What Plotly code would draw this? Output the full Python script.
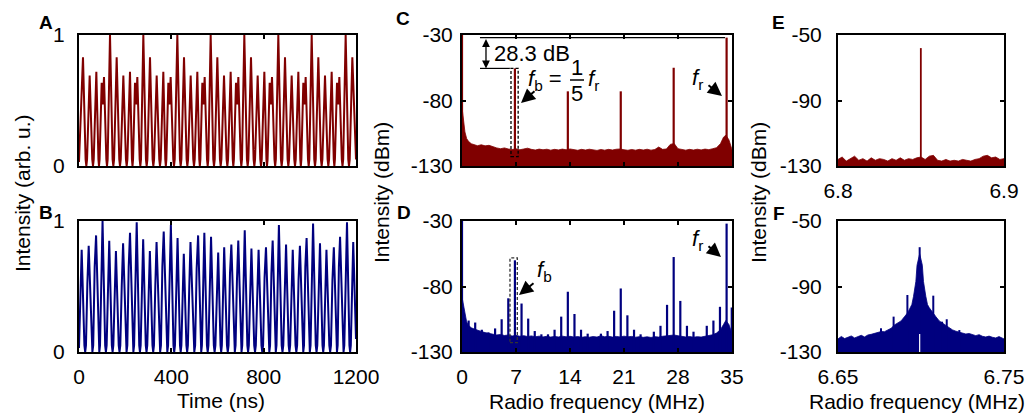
import plotly.graph_objects as go

# ---------------- data ----------------
# Panel A : intensity time trace (red) - local maxima and minima between them
a_max_t = [17.3, 46.2, 75.1, 98.2, 108.3,
           134.3, 163.2, 192.1, 220.9, 242.6, 252.7,
           278.7, 307.6, 336.5, 365.3, 387.0, 397.1,
           426.0, 454.9, 483.8, 512.6, 534.3, 544.4,
           570.4, 599.3, 628.2, 657.0, 680.1, 690.3,
           716.2, 745.1, 774.0, 802.9, 826.0, 836.1,
           863.5, 892.4, 921.3, 950.2, 971.8, 981.9,
           1008.0, 1036.8, 1065.7, 1094.6, 1117.7, 1127.8,
           1155.2, 1184.1]
a_max_v = [0.83, 0.69, 0.72, 0.635, 0.68,
           1.0, 0.83, 0.69, 0.72, 0.635, 0.68,
           1.0, 0.83, 0.69, 0.72, 0.635, 0.68,
           1.0, 0.83, 0.69, 0.72, 0.635, 0.68,
           1.0, 0.83, 0.69, 0.72, 0.635, 0.68,
           1.0, 0.83, 0.69, 0.72, 0.635, 0.68,
           1.0, 0.83, 0.69, 0.72, 0.635, 0.68,
           1.0, 0.83, 0.69, 0.72, 0.635, 0.68,
           1.0, 0.83]
a_min_v = [0.0, 0.0, 0.0, 0.47, 0.0,
           0.0, 0.0, 0.0, 0.0, 0.47, 0.0,
           0.0, 0.0, 0.0, 0.0, 0.47, 0.0,
           0.0, 0.0, 0.0, 0.0, 0.47, 0.0,
           0.0, 0.0, 0.0, 0.0, 0.47, 0.0,
           0.0, 0.0, 0.0, 0.0, 0.47, 0.0,
           0.0, 0.0, 0.0, 0.0, 0.47, 0.0,
           0.0, 0.0, 0.0, 0.0, 0.47, 0.0,
           0.0]
a_edge_v = [0.03, 0.05]

# Panel B : intensity time trace (blue)
b_max_t = [11.6, 42, 74, 102, 131, 160, 191, 221, 250, 278,
           307, 336, 367, 398, 427, 454, 483, 516, 543, 572,
           603, 629, 660, 690, 718, 747, 778, 810, 839, 866,
           897, 926, 957, 986, 1014, 1044, 1072, 1104, 1131, 1161,
           1188]
b_max_v = [0.78, 0.81, 0.89, 1.0, 0.85, 0.77, 0.83, 0.91, 0.99, 0.86,
           0.77, 0.84, 0.92, 0.97, 0.87, 0.75, 0.84, 0.89, 0.91, 0.88,
           0.76, 0.80, 0.82, 0.85, 0.93, 0.79, 0.78, 0.80, 0.85, 0.97,
           0.82, 0.78, 0.81, 0.87, 0.98, 0.83, 0.78, 0.80, 0.88, 0.99,
           0.84]
b_shoulder_v = [0, 0.47, 0.6, 0, 0, 0, 0.45, 0.6, 0, 0,
                0, 0.45, 0.6, 0, 0, 0, 0.43, 0.59, 0, 0,
                0, 0, 0.55, 0.5, 0, 0, 0, 0.52, 0.55, 0,
                0, 0, 0.5, 0.6, 0, 0, 0, 0.5, 0.6, 0,
                0]
b_edge_v = [0.03, 0.1]

# Spectrum noise floor sample frequencies (MHz), panels C and D
cd_floor_f = [0.0, 0.17, 0.38, 0.6, 0.81, 1.2, 1.6,
              2.0, 2.5, 3.0, 3.5, 4.0, 4.5, 5.0, 5.5, 6.0, 6.5,
              7.0, 7.5, 8.0, 8.5, 9.0, 9.5, 10.0, 10.5, 11.0, 11.5,
              12.0, 12.5, 13.0, 13.5, 14.0, 14.5, 15.0, 15.5, 16.0, 16.5,
              17.0, 17.5, 18.0, 18.5, 19.0, 19.5, 20.0, 20.5, 21.0, 21.5,
              22.0, 22.5, 23.0, 23.5, 24.0, 24.5, 25.0, 25.5, 26.0, 26.5,
              27.0, 27.5, 28.0, 28.5, 29.0, 29.5, 30.0, 30.5, 31.0, 31.5,
              32.0, 32.5, 33.0, 33.5, 33.9, 34.2, 34.6, 35.0]
c_floor_v = [-85, -92, -104, -109, -111, -113, -114,
             -114.5, -113.8, -114.6, -114.2, -115.3, -116.2, -116.8, -116.2, -117.0, -117.4,
             -116.9, -117.6, -117.0, -116.4, -117.3, -117.8, -117.1, -117.6, -117.2, -117.9,
             -117.3, -117.7, -117.1, -117.6, -117.0, -117.5, -118.0, -117.3, -117.8, -117.2,
             -117.7, -118.1, -117.4, -117.9, -117.3, -117.8, -117.2, -117.0, -117.6, -118.0,
             -117.4, -117.9, -117.3, -117.8, -117.2, -117.9, -117.4, -115.5, -117.3, -117.0,
             -113.5, -112.8, -116.8, -117.4, -117.9, -117.3, -117.8, -117.2, -117.7, -117.1,
             -117.5, -116.8, -116.0, -113.0, -108.0, -106.5, -110.0, -117.5]
d_floor_v = [-88, -94, -101, -107, -109.5, -111.5, -112.5,
             -113.5, -114.3, -115.2, -115.8, -116.5, -117.0, -116.6, -117.4, -117.0, -117.8,
             -117.3, -118.0, -117.5, -118.2, -117.7, -118.4, -117.9, -118.5, -118.0, -118.6,
             -118.1, -118.5, -117.9, -118.4, -118.0, -118.6, -118.2, -118.8, -118.3, -118.7,
             -118.2, -118.6, -117.5, -118.4, -118.0, -118.6, -118.1, -118.5, -117.9, -118.4,
             -118.1, -118.7, -118.3, -118.8, -118.4, -118.9, -118.3, -118.6, -118.0, -117.6,
             -117.2, -117.0, -117.6, -118.1, -118.5, -118.2, -118.7, -118.3, -118.6, -118.0,
             -117.6, -116.8, -115.5, -113.0, -109.0, -106.0, -109.0, -116.0]

# Spectral lines
c_peak_f = [0.0, 6.86, 13.72, 20.58, 27.44, 34.3]
c_peak_v = [-30, -55.5, -73, -73, -55, -32]

d_peak_f = [0.0, 0.86, 1.71, 2.57, 3.43, 4.29, 5.14, 6.0, 6.86, 7.72,
            8.58, 9.43, 10.29, 11.15, 12.0, 12.86, 13.72, 14.58, 15.43, 16.29,
            18.01, 18.87, 19.72, 20.58, 21.44, 22.3, 23.15, 24.87, 25.73, 26.58,
            27.44, 28.3, 29.16, 30.01, 31.73, 32.59, 33.44, 34.3, 34.97]
d_peak_v = [-30, -106, -107.5, -113, -115, -112, -105, -89, -60, -93,
            -104.5, -114, -116.5, -116.5, -113, -103, -84, -101, -113, -116,
            -116, -114, -98.5, -81.5, -102, -113, -116.5, -114.5, -110, -94,
            -57.5, -91, -110, -114.5, -110, -106, -95.5, -32, -96]

# Panel E : zoom around f_b (red)
e_floor_f = [6.8, 6.8025, 6.805, 6.8075, 6.81, 6.8125, 6.815, 6.8175, 6.82, 6.8225,
             6.825, 6.8275, 6.83, 6.8325, 6.835, 6.8375, 6.84, 6.8425, 6.845, 6.8475,
             6.85, 6.8525, 6.855, 6.8575, 6.86, 6.8625, 6.865, 6.8675, 6.87, 6.8725,
             6.875, 6.8775, 6.88, 6.8825, 6.885, 6.8875, 6.89, 6.8925, 6.895, 6.8975,
             6.9]
e_floor_v = [-126, -124.5, -127, -125.5, -124, -126.5, -125.5, -127, -125, -126.5,
             -125.5, -126, -127, -125.5, -126.5, -125, -126.5, -125.5, -126, -125,
             -124.5, -126, -124, -123.5, -126.5, -127, -126, -127, -126.5, -127,
             -126, -126.5, -127, -126, -125.5, -124, -123.5, -125, -124.5, -126,
             -125.5]
e_peak_f = [6.8499]
e_peak_v = [-58]

# Panel F : zoom around f_b (blue)
f_floor_f = [6.650, 6.652, 6.654, 6.656, 6.658, 6.660, 6.662, 6.664, 6.666, 6.668,
             6.670, 6.672, 6.674, 6.676, 6.678, 6.680, 6.682, 6.684, 6.686, 6.688,
             6.690, 6.692, 6.6935, 6.6945, 6.6955, 6.6969, 6.6976, 6.6992, 6.7008, 6.7015,
             6.7029, 6.7039, 6.705, 6.707, 6.709, 6.711, 6.713, 6.715, 6.717, 6.719,
             6.721, 6.723, 6.725, 6.727, 6.729, 6.731, 6.733, 6.735, 6.737, 6.739,
             6.741, 6.743, 6.745, 6.747, 6.749, 6.750]
f_floor_v = [-122, -120.5, -121.8, -121, -120.2, -121.4, -120.6, -119.8, -120.8, -119.6,
             -119.2, -118.6, -118.4, -117.5, -117.6, -116.5, -115.5, -113.5, -112.5, -111,
             -108.5, -106, -103, -101, -96, -87, -77, -70, -77, -87,
             -96, -101, -103, -106, -108.5, -111, -112.5, -113.5, -115.5, -116.5,
             -117.3, -117.8, -118.5, -119, -118.7, -119.6, -120, -119.4, -120.4, -120.8,
             -120.3, -121, -121.4, -120.6, -121.6, -122]
f_peak_f = [6.6759, 6.6835, 6.6918, 6.6992, 6.7074, 6.7127, 6.7155, 6.7231]
f_peak_v = [-115.5, -108.4, -95.2, -66, -95.6, -111.5, -110, -116.6]
f_gap_f = [6.6992]
f_gap_v = [-119]

# annotation levels / markers (data units, panel C and D)
c_ref_line_x = [2.33, 34.1]
c_fb_line_x = [2.33, 6.2]
c_dbl_arrow_x = 3.11
c_box_x = [6.35, 7.28]
d_box_x = [6.22, 7.17]
d_box_top = -58.2
box_bottom = -122.8

RED = "#800000"
BLUE = "#00007f"
FONT = "Liberation Sans, Arial, sans-serif"
W, H = 1029, 416


def px(x):
    return x / W


def py(y):
    return 1 - y / H


def pulse_train(max_t, max_v, min_v, shoulders, edge_v, t_end):
    """Piecewise trace through the read maxima; pulse bottoms are blunted slightly."""
    xs, ys = [0.0], [edge_v[0]]
    for i in range(len(max_t)):
        if i > 0:
            tm = (max_t[i - 1] + max_t[i]) / 2.0
            mv = min_v[i - 1] if min_v is not None else 0.0
            half = (max_t[i] - max_t[i - 1]) / 2.0
            if mv < 0.1:
                xs += [tm - 0.22 * half, tm, tm + 0.22 * half]
                ys += [mv + 0.05, mv, mv + 0.05]
            else:
                xs.append(tm)
                ys.append(mv)
        else:
            tm = 0.0
        if shoulders is not None and shoulders[i] > 0:
            span = max_t[i] - tm
            xs += [tm + 0.45 * span, tm + 0.62 * span]
            ys += [shoulders[i], shoulders[i] + 0.05]
        xs.append(max_t[i])
        ys.append(max_v[i])
    xs.append(t_end)
    ys.append(edge_v[1])
    return xs, ys


def floor_poly(ff, fv, x0, x1, base):
    return list(ff) + [x1, x0], list(fv) + [base, base]


def line_segments(pf, pv, base):
    xs, ys = [], []
    for f, v in zip(pf, pv):
        xs += [f, f, None]
        ys += [base, v, None]
    return xs, ys


fig = go.Figure()

# A
ax_, ay_ = pulse_train(a_max_t, a_max_v, a_min_v, None, a_edge_v, 1200)
fig.add_trace(go.Scatter(x=ax_, y=ay_, mode="lines", line=dict(color=RED, width=2),
                         xaxis="x", yaxis="y", hoverinfo="skip"))
# B
bx_, by_ = pulse_train(b_max_t, b_max_v, None, b_shoulder_v, b_edge_v, 1200)
fig.add_trace(go.Scatter(x=bx_, y=by_, mode="lines", line=dict(color=BLUE, width=2),
                         xaxis="x2", yaxis="y2", hoverinfo="skip"))


def add_spectrum(ff, fv, pf, pv, x0, x1, base, color, xa, ya, lw):
    px_, py_ = floor_poly(ff, fv, x0, x1, base)
    fig.add_trace(go.Scatter(x=px_, y=py_, mode="lines", fill="toself", fillcolor=color,
                             line=dict(color=color, width=0.8), xaxis=xa, yaxis=ya,
                             hoverinfo="skip"))
    sx, sy = line_segments(pf, pv, base)
    fig.add_trace(go.Scatter(x=sx, y=sy, mode="lines", line=dict(color=color, width=lw),
                             xaxis=xa, yaxis=ya, hoverinfo="skip"))


add_spectrum(cd_floor_f, c_floor_v, c_peak_f, c_peak_v, 0, 35, -130, RED, "x3", "y3", 2.2)
add_spectrum(cd_floor_f, d_floor_v, d_peak_f, d_peak_v, 0, 35, -130, BLUE, "x4", "y4", 2.2)
add_spectrum(e_floor_f, e_floor_v, e_peak_f, e_peak_v, 6.8, 6.9, -130, RED, "x5", "y5", 1.8)
add_spectrum(f_floor_f, f_floor_v, f_peak_f, f_peak_v, 6.65, 6.75, -130, BLUE, "x6", "y6", 2.0)
gx, gy = line_segments(f_gap_f, f_gap_v, -130)
fig.add_trace(go.Scatter(x=gx, y=gy, mode="lines", line=dict(color="white", width=1.2),
                         xaxis="x6", yaxis="y6", hoverinfo="skip"))

# ---------------- axes ----------------
tickfont = dict(family=FONT, size=21, color="black")


def axis(domain, anchor, rng, tickvals, ticktext, show_labels, standoff):
    return dict(domain=domain, anchor=anchor, range=rng, tickvals=tickvals, ticktext=ticktext,
                showticklabels=show_labels, showline=True, linecolor="black", linewidth=2,
                mirror="ticks", ticks="inside", ticklen=4, tickwidth=2, tickcolor="black",
                showgrid=False, zeroline=False, tickfont=tickfont, ticklabelstandoff=standoff,
                fixedrange=True, automargin=False)


xA = [px(79), px(356)]
xC = [px(462), px(732)]
xE = [px(838), px(1004)]
yT = [py(166), py(35)]
yB = [py(352), py(221)]

t_ticks = [0, 400, 800, 1200]
f_ticks = [0, 7, 14, 21, 28, 35]
XSO = 5

layout_axes = dict(
    xaxis=axis(xA, "y", [0, 1200], t_ticks, [str(v) for v in t_ticks], False, XSO),
    yaxis=axis(yT, "x", [0, 1], [0, 1], ["0", "1"], True, 8),
    xaxis2=axis(xA, "y2", [0, 1200], t_ticks, [str(v) for v in t_ticks], True, XSO),
    yaxis2=axis(yB, "x2", [0, 1], [0, 1], ["0", "1"], True, 8),
    xaxis3=axis(xC, "y3", [0, 35], f_ticks, [str(v) for v in f_ticks], False, XSO),
    yaxis3=axis(yT, "x3", [-130, -30], [-130, -80, -30], ["-130", "-80", "-30"], True, 3),
    xaxis4=axis(xC, "y4", [0, 35], f_ticks, [str(v) for v in f_ticks], True, XSO),
    yaxis4=axis(yB, "x4", [-130, -30], [-130, -80, -30], ["-130", "-80", "-30"], True, 3),
    xaxis5=axis(xE, "y5", [6.8, 6.9], [6.8, 6.9], ["6.8", "6.9"], True, XSO),
    yaxis5=axis(yT, "x5", [-130, -50], [-130, -90, -50], ["-130", "-90", "-50"], True, 10),
    xaxis6=axis(xE, "y6", [6.65, 6.75], [6.65, 6.75], ["6.65", "6.75"], True, XSO),
    yaxis6=axis(yB, "x6", [-130, -50], [-130, -90, -50], ["-130", "-90", "-50"], True, 10),
)

# ---------------- annotations ----------------
ann = []


def text(x, y, s, size=21, xanchor="center", yanchor="middle", angle=0, bold=False):
    if bold:
        s = "<b>" + s + "</b>"
    ann.append(dict(x=px(x), y=py(y), xref="paper", yref="paper", text=s, showarrow=False,
                    xanchor=xanchor, yanchor=yanchor, textangle=angle,
                    font=dict(family=FONT, size=size, color="black")))


def arrow(tip, tail):
    ann.append(dict(x=px(tip[0]), y=py(tip[1]), xref="paper", yref="paper", text="",
                    showarrow=True, ax=tail[0] - tip[0], ay=tail[1] - tip[1],
                    arrowhead=2, arrowsize=1.4, arrowwidth=2, arrowcolor="black"))


# panel letters
text(46, 22, "A", 19, bold=True)
text(46, 212, "B", 19, bold=True)
text(403, 19, "C", 19, bold=True)
text(404, 212, "D", 19, bold=True)
text(778, 22, "E", 19, bold=True)
text(779, 214, "F", 19, bold=True)

# axis titles
text(22, 193, "Intensity (arb. u.)", 21, angle=-90)
text(381, 193, "Intensity (dBm)", 21, angle=-90)
text(758, 193, "Intensity (dBm)", 21, angle=-90)
text(221, 400, "Time (ns)", 21)
text(597, 401, "Radio frequency (MHz)", 21)
text(917, 401, "Radio frequency (MHz)", 21)

# panel C annotations
text(492, 54, "28.3 dB", 22, xanchor="left")
text(564, 80, "<i>f</i><sub>b</sub> =", 22, xanchor="right")
text(577, 67, "1", 22)
text(577, 93, "5", 22)
text(586, 80, "<i>f</i><sub>r</sub>", 22, xanchor="left")
text(690, 79, "<i>f</i><sub>r</sub>", 22, xanchor="left")
arrow((521, 103), (536, 90))
arrow((722, 96), (707, 84))

# panel D annotations
text(535, 271, "<i>f</i><sub>b</sub>", 22, xanchor="left")
text(690, 240, "<i>f</i><sub>r</sub>", 22, xanchor="left")
arrow((519, 295), (535, 282))
arrow((721, 257), (707, 245))

# double-headed arrow (data coords, panel C)
ann.append(dict(x=c_dbl_arrow_x, y=c_peak_v[1], xref="x3", yref="y3", text="",
                showarrow=True, axref="x3", ayref="y3", ax=c_dbl_arrow_x, ay=c_peak_v[5],
                arrowhead=2, startarrowhead=2, arrowside="end+start", arrowsize=1.2,
                startarrowsize=1.2, arrowwidth=1.3, arrowcolor="black"))

shapes = [
    dict(type="line", xref="x3", yref="y3", x0=c_ref_line_x[0], x1=c_ref_line_x[1],
         y0=c_peak_v[5], y1=c_peak_v[5], line=dict(color="black", width=1.2)),
    dict(type="line", xref="x3", yref="y3", x0=c_fb_line_x[0], x1=c_fb_line_x[1],
         y0=c_peak_v[1], y1=c_peak_v[1], line=dict(color="black", width=1.2)),
    dict(type="rect", xref="x3", yref="y3", x0=c_box_x[0], x1=c_box_x[1],
         y0=box_bottom, y1=c_peak_v[1], line=dict(color="black", width=1.3, dash="3px,2px")),
    dict(type="rect", xref="x4", yref="y4", x0=d_box_x[0], x1=d_box_x[1],
         y0=box_bottom, y1=d_box_top, line=dict(color="#333333", width=1.3, dash="3px,2px")),
    dict(type="line", xref="paper", yref="paper", x0=px(570), x1=px(584), y0=py(80), y1=py(80),
         line=dict(color="black", width=1.5)),
]

fig.update_layout(
    width=W, height=H, margin=dict(l=0, r=0, t=0, b=0, pad=0), autosize=False,
    paper_bgcolor="white", plot_bgcolor="white", showlegend=False,
    annotations=ann, shapes=shapes, **layout_axes,
)

fig.write_html(
    "out.html",
    config={"displayModeBar": False, "staticPlot": True},
    post_script="document.body.style.margin='0';document.body.style.padding='0';"
                "document.documentElement.style.overflow='hidden';"
                "document.body.style.overflow='hidden';",
)
